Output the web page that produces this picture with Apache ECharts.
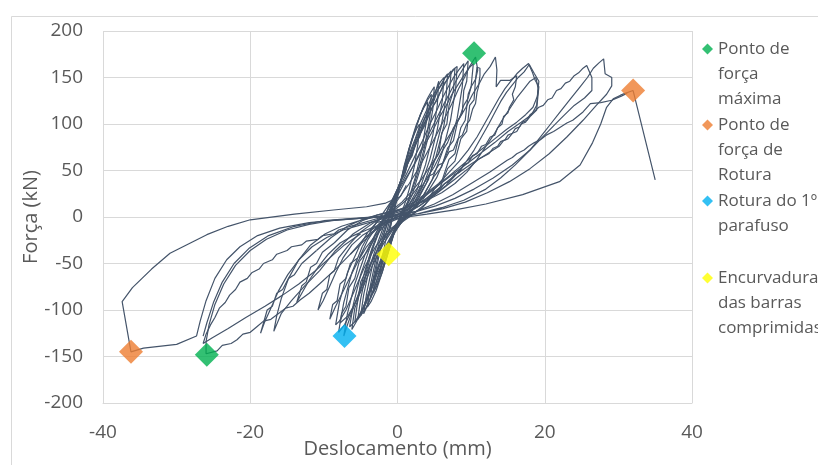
<!DOCTYPE html>
<html>
<head>
<meta charset="utf-8">
<script src="https://cdn.jsdelivr.net/npm/echarts@6/dist/echarts.min.js"></script>
<style>
  html,body{margin:0;padding:0;background:#fff;}
  #chart{width:818px;height:465px;}
</style>
</head>
<body>
<div id="chart"></div>
<script>
// deslocamento (mm), força (kN) - ciclos
const ciclo01=[[-1.0,-12],[-0.4,8],[0.3,32],[0.9,55],[1.5,72],[2.1,86],[2.6,95],[3.0,100],[2.8,80],[2.3,55],[1.6,30],[0.9,12],[0.2,-2],[-0.5,-18],[-1.1,-34],[-1.7,-48],[-2.1,-56],[-2.4,-62],[-2.1,-45],[-1.6,-25],[-1.0,-12]];
const ciclo02=[[-1.0,-12],[-0.4,10],[0.4,36],[1.1,58],[1.8,80],[2.5,98],[3.1,110],[3.6,118],[4.1,124],[3.9,102],[3.3,72],[2.4,42],[1.4,16],[0.4,0],[-0.6,-20],[-1.4,-42],[-2.1,-60],[-2.8,-74],[-3.3,-82],[-3.0,-60],[-2.3,-34],[-1.4,-14]];
const ciclo03=[[-1.4,-14],[-0.7,8],[0.2,32],[1.0,56],[1.8,78],[2.6,98],[3.4,116],[4.1,128],[4.6,135],[5.0,140],[4.8,116],[4.1,84],[3.1,52],[2.0,24],[0.8,4],[-0.3,-14],[-1.2,-36],[-2.1,-60],[-2.9,-79],[-3.6,-91],[-4.1,-97],[-3.7,-74],[-2.9,-44],[-1.9,-20]];
const ciclo04=[[-1.9,-20],[-1.1,0],[-0.2,22],[0.7,44],[1.5,66],[2.4,84],[3.2,102],[3.9,114],[4.6,128],[5.2,136],[5.8,145],[6.3,150],[6.1,126],[5.4,94],[4.4,62],[3.2,34],[1.8,12],[0.4,-4],[-0.8,-22],[-1.8,-44],[-2.7,-66],[-3.5,-84],[-4.3,-98],[-5.0,-106],[-4.6,-84],[-3.8,-54],[-2.7,-28]];
const ciclo05=[[-2.7,-28],[-1.8,-8],[-0.8,14],[0.3,36],[1.3,58],[2.2,78],[3.1,96],[4.0,112],[4.8,126],[5.6,138],[6.4,149],[7.3,157],[7.0,132],[6.3,98],[5.2,64],[3.9,36],[2.4,13],[0.9,-2],[-0.5,-17],[-1.7,-38],[-2.8,-60],[-3.8,-82],[-4.6,-98],[-5.3,-108],[-5.8,-113],[-5.4,-90],[-4.5,-60],[-3.4,-32]];
const ciclo06=[[-3.4,-32],[-2.3,-10],[-1.2,10],[0,30],[1.0,50],[2.0,68],[3.0,88],[3.8,100],[4.7,118],[5.4,126],[6.2,142],[6.8,148],[7.5,158],[8.1,162],[7.9,138],[7.2,104],[6.1,70],[4.7,40],[3.0,16],[1.2,0],[-0.4,-15],[-1.7,-36],[-2.9,-60],[-3.9,-82],[-4.8,-100],[-5.7,-112],[-6.5,-118],[-6.0,-94],[-5.0,-62],[-3.8,-34]];
const ciclo07=[[-3.8,-34],[-2.6,-12],[-1.3,8],[0,28],[1.2,46],[2.4,66],[3.4,82],[4.4,100],[5.3,114],[6.1,128],[6.9,140],[7.6,150],[8.3,158],[9.0,165],[8.8,140],[8.1,106],[6.9,72],[5.3,42],[3.4,18],[1.4,2],[-0.5,-12],[-2.0,-30],[-3.4,-52],[-4.6,-74],[-5.7,-92],[-6.7,-106],[-7.8,-114],[-7.3,-92],[-6.2,-60],[-4.8,-32]];
const ciclo08=[[-4.8,-32],[-3.4,-12],[-1.8,6],[-0.4,22],[1.0,40],[2.4,58],[3.6,76],[4.6,90],[5.6,106],[6.5,118],[7.4,132],[8.2,142],[9.0,152],[9.7,160],[10.3,165],[10.0,140],[9.6,132],[9.2,104],[8.6,96],[7.8,68],[7.0,62],[6.0,38],[5.0,30],[3.8,14],[1.6,0],[-0.6,-12],[-2.4,-30],[-3.8,-52],[-5.0,-76],[-6.0,-98],[-6.8,-116],[-7.3,-128],[-6.8,-104],[-5.8,-72],[-4.4,-40]];
const ciclo09=[[-4.4,-40],[-3.0,-18],[-1.6,0],[0,18],[1.6,36],[3.0,54],[4.2,72],[5.4,90],[6.4,106],[7.4,122],[8.3,138],[9.1,150],[9.8,162],[10.6,172],[10.9,158],[10.6,148],[10.4,126],[9.8,120],[9.4,92],[8.6,84],[7.8,60],[6.8,52],[5.8,32],[3.4,10],[1.0,-2],[-1.2,-14],[-3.0,-32],[-4.6,-56],[-5.9,-80],[-7.0,-100],[-7.9,-112],[-8.4,-116],[-7.9,-92],[-6.8,-60],[-5.2,-32]];
const ciclo10=[[-5.2,-32],[-4.0,-16],[-2.6,-4],[-1.0,6],[0.6,16],[2.0,28],[3.2,40],[4.4,54],[5.4,66],[6.4,80],[7.4,92],[8.4,106],[9.3,118],[10.2,132],[11.0,142],[11.8,154],[12.6,162],[13.3,172],[13.5,158],[13.4,140],[14.0,147],[15.3,147],[16.2,152],[16.0,140],[15.6,132],[15.8,126],[15.2,118],[15.0,112],[14.4,108],[14.2,100],[13.6,96],[13.2,88],[12.6,86],[12.0,78],[11.4,76],[10.8,68],[10.2,66],[9.6,58],[9.0,56],[8.4,48],[7.8,46],[7.0,38],[6.4,36],[5.6,28],[5.0,26],[4.0,18],[3.0,12],[1.6,6],[0,0],[-1.6,-6],[-3.2,-12],[-4.8,-20],[-6.2,-30],[-7.4,-44],[-8.4,-60],[-9.3,-76],[-10.1,-90],[-10.8,-100],[-10.2,-82],[-9.6,-78],[-9.2,-62],[-8.6,-58],[-8.0,-44],[-6.6,-30]];
const ciclo11=[[-6.6,-30],[-5.0,-16],[-3.2,-6],[-1.4,2],[0.4,8],[2.2,16],[4.0,26],[5.6,36],[7.0,48],[8.4,60],[9.6,72],[10.8,86],[11.8,100],[12.8,114],[13.8,128],[14.6,138],[15.4,146],[16.2,154],[17.0,160],[17.8,165],[18.3,156],[18.7,147],[19.2,140],[19.0,124],[18.9,115],[18.0,108],[17.6,104],[17.0,102],[16.6,97],[16.0,95],[15.6,90],[15.0,88],[14.6,83],[14.0,81],[13.6,76],[13.0,74],[12.4,68],[11.0,62],[9.6,52],[8.0,42],[6.4,32],[4.8,22],[3.0,12],[1.2,4],[-0.6,-2],[-2.4,-8],[-4.2,-14],[-6.0,-20],[-7.8,-28],[-9.4,-40],[-10.8,-54],[-12.0,-68],[-13.0,-82],[-13.7,-92],[-13.0,-74],[-12.4,-70],[-11.8,-54],[-11.0,-50],[-10.2,-38],[-8.6,-28]];
const ciclo12=[[-8.6,-28],[-6.8,-14],[-4.8,-4],[-2.8,2],[-0.8,6],[1.2,10],[3.2,16],[5.0,24],[6.6,34],[8.0,46],[9.2,58],[10.4,72],[11.4,86],[12.4,100],[13.2,112],[14.0,124],[14.8,134],[15.6,142],[16.4,150],[17.2,156],[17.9,164],[18.6,154],[19.2,146],[19.0,130],[18.4,118],[17.4,110],[16.2,102],[14.8,94],[13.2,84],[11.6,74],[10.0,64],[8.2,52],[6.4,40],[4.6,28],[2.8,16],[1.0,6],[-1.0,0],[-3.0,-4],[-5.2,-9],[-7.4,-14],[-9.6,-22],[-11.6,-32],[-13.4,-46],[-14.9,-62],[-16.2,-80],[-17.2,-98],[-18.0,-112],[-18.6,-125],[-17.7,-100],[-17.0,-96],[-16.4,-82],[-15.6,-78],[-14.8,-66],[-14.0,-62],[-13.0,-50],[-11.0,-36]];
const ciclo13=[[-11.0,-36],[-9.0,-22],[-6.8,-10],[-4.6,-2],[-2.4,3],[-0.2,7],[2.0,12],[4.0,18],[6.0,26],[7.8,36],[9.4,48],[10.8,62],[12.0,76],[13.2,90],[14.2,104],[15.2,116],[16.2,128],[17.2,138],[18.0,146],[18.8,150],[19.1,138],[18.9,120],[18.2,110],[16.8,102],[15.0,92],[13.2,80],[11.2,68],[9.2,56],[7.2,44],[5.2,32],[3.2,20],[1.2,10],[-0.8,4],[-3.0,0],[-5.2,-4],[-7.6,-10],[-9.8,-18],[-11.8,-30],[-13.4,-46],[-14.8,-66],[-15.8,-88],[-16.4,-106],[-16.8,-123],[-15.8,-104],[-14.4,-90],[-12.6,-74],[-10.6,-58]];
const ciclo14=[[-10.6,-58],[-8.4,-36],[-6.0,-18],[-3.6,-6],[-1.2,2],[1.2,8],[3.6,18],[5.8,32],[8.0,46],[10.2,58],[12.2,68],[13.8,76],[14.4,82],[15.0,84],[15.6,90],[16.2,92],[16.8,100],[17.4,102],[18.0,110],[18.5,113],[19.2,118],[19.8,120],[20.4,126],[21.0,128],[21.6,136],[22.2,138],[22.8,144],[23.4,146],[24.0,152],[24.6,155],[25.2,160],[25.7,163],[26.4,150],[26.4,136],[25.4,128],[24.0,120],[22.2,106],[20.2,90],[18.0,72],[15.6,56],[13.0,42],[10.4,30],[7.8,20],[5.2,12],[2.6,6],[0,2],[-3,0],[-6,-2],[-9,-4],[-12,-8],[-15,-14],[-17.8,-24],[-20.0,-36],[-22.0,-52],[-23.6,-72],[-24.8,-94],[-25.6,-116],[-26.0,-134],[-26.0,-147],[-24.5,-144],[-23.8,-138],[-22.6,-136],[-21.8,-132],[-21.0,-126],[-20.0,-124],[-19.1,-118],[-18.2,-112],[-17.2,-110],[-16.2,-104],[-15.2,-98],[-14.2,-96],[-13.2,-89],[-12.0,-82],[-10.6,-72],[-8.4,-56],[-6.4,-40],[-4.6,-26]];
const ciclo15=[[-4.6,-26],[-2.4,-10],[0,-2],[3,4],[6,10],[9,18],[12,30],[14,42],[16,56],[18,72],[19.4,86],[20.8,100],[22.2,114],[23.6,128],[24.8,140],[25.8,150],[26.6,160],[27.4,166],[28.0,170],[28.2,154],[29.1,150],[29.1,141],[28.4,132],[27.0,120],[25.2,104],[23.0,86],[20.6,68],[18.0,52],[15.2,38],[12.2,26],[9.2,16],[6.2,9],[3.2,4],[0,1],[-4,-1],[-8,-3],[-12,-6],[-16,-12],[-19,-20],[-21.4,-32],[-23.2,-46],[-24.8,-66],[-26.0,-90],[-26.8,-112],[-27.3,-128],[-30.0,-137],[-34.5,-141],[-36.2,-145],[-37.4,-91],[-36.0,-76],[-33.4,-56],[-30.9,-39],[-28.4,-29],[-25.9,-19],[-23.0,-10],[-20.0,-3],[-14.0,3],[-8.7,7.5],[-4.2,11],[-1.6,15],[0.4,22],[1.2,34]];
const ciclo16=[[-6.4,-40],[-4.4,-22],[-2.2,-8],[0,0],[2.5,6],[5,14],[7.5,24],[10,36],[12.5,48],[14.9,61],[15.6,64],[16.2,68],[17.2,72],[17.8,76],[18.6,80],[19.4,83],[20.2,88],[21.2,92],[22.0,96],[23.0,101],[23.8,104],[25.2,113],[26.2,122],[27.6,123],[29.1,125.5],[30.4,130],[31.2,133]];
const ciclo17=[[-3.0,-6],[0.4,-1],[4,3],[8,8],[12,14],[17,24],[22,38],[24.8,56],[26.5,80],[27.6,100],[28.4,118],[29.3,127],[30.3,131],[30.9,133],[32.0,136],[35.0,40]];
const ciclo18=[[-2.0,-22],[-1.2,-2],[-0.4,18],[0.5,40],[1.2,52],[1.5,62],[2.2,74],[2.5,82],[3.2,94],[3.5,102],[4.1,112],[4.4,120],[5.0,130],[5.3,138],[5.6,146],[5.4,120],[4.8,88],[3.8,56],[2.6,28],[1.2,8],[-0.2,-8],[-1.2,-28],[-2.2,-52],[-3.0,-72],[-3.8,-90],[-4.6,-104],[-4.2,-82],[-3.4,-52],[-2.4,-26]];
const ciclo19=[[-2.4,-26],[-1.5,-6],[-0.6,16],[0.3,36],[1.0,46],[1.4,58],[2.0,66],[2.4,78],[3.0,86],[3.4,98],[4.0,106],[4.4,118],[5.0,126],[5.4,136],[6.0,142],[6.4,150],[6.8,154],[6.6,128],[5.9,96],[4.8,62],[3.5,34],[2.0,12],[0.6,-4],[-0.6,-20],[-1.6,-40],[-2.4,-56],[-2.8,-62],[-3.3,-74],[-3.7,-80],[-4.2,-92],[-4.6,-98],[-5.0,-106],[-5.4,-110],[-5.0,-88],[-4.2,-58],[-3.2,-30]];
const ciclo20=[[-3.2,-30],[-2.2,-8],[-1.1,12],[0.1,32],[1.1,52],[2.1,72],[3.1,90],[4.0,106],[4.9,120],[5.8,134],[6.6,146],[7.2,154],[7.8,160],[7.6,136],[7.0,120],[6.7,100],[6.0,90],[5.6,68],[4.8,58],[4.2,40],[3.0,24],[1.4,4],[-0.3,-12],[-1.5,-30],[-2.6,-52],[-3.6,-74],[-4.5,-94],[-5.4,-110],[-6.2,-121],[-5.8,-98],[-5.4,-90],[-5.0,-70],[-4.4,-60],[-3.8,-42]];
const ciclo21=[[-3.8,-42],[-2.7,-20],[-1.4,2],[-0.2,20],[1.0,38],[2.2,56],[3.3,74],[4.3,90],[5.3,106],[6.2,120],[7.0,132],[7.8,144],[8.5,154],[9.1,162],[9.6,168],[9.4,146],[9.0,136],[8.8,112],[8.2,104],[7.6,82],[6.8,74],[6.0,54],[5.0,44],[3.6,24],[1.8,6],[0,-6],[-1.6,-20],[-3.0,-40],[-4.2,-62],[-5.3,-84],[-6.3,-102],[-7.2,-116],[-8.0,-124],[-7.6,-104],[-7.0,-96],[-6.6,-76],[-5.8,-66],[-5.2,-48],[-4.2,-38],[-3.0,-22]];
const ciclo22=[[-1.2,-14],[-0.6,6],[0.2,30],[0.9,52],[1.6,74],[2.4,94],[3.1,110],[3.8,122],[4.6,132],[4.4,108],[3.7,76],[2.7,46],[1.6,20],[0.5,2],[-0.5,-16],[-1.3,-36],[-2.1,-56],[-2.9,-74],[-3.7,-88],[-3.3,-66],[-2.6,-40],[-1.6,-18]];
const ciclo23=[[-5.2,-44],[-4.0,-24],[-2.6,-8],[-1.0,4],[0.6,14],[2.0,24],[2.8,32],[3.4,34],[4.2,44],[4.8,46],[5.6,56],[6.2,58],[7.0,70],[7.6,72],[8.2,84],[8.8,88],[9.4,100],[9.8,104],[10.2,116],[10.6,122],[10.8,134],[11.0,140],[11.2,152],[11.2,160],[10.8,161],[10.6,148],[10.0,140],[9.6,128],[9.0,120],[8.4,106],[7.6,96],[6.8,80],[6.0,70],[5.0,54],[4.0,42],[2.8,26],[1.4,12],[0,2],[-1.6,-8],[-3.0,-20],[-4.2,-32],[-5.4,-48],[-6.4,-64],[-7.4,-80],[-8.4,-96],[-9.2,-110],[-8.8,-94],[-8.2,-90],[-7.8,-72],[-7.0,-66],[-6.4,-50],[-5.4,-44]];
const ciclo24=[[2,6],[-2,0],[-6.4,-10],[-8.0,-14],[-8.6,-18],[-10.2,-20],[-10.8,-24],[-12.4,-26],[-13.0,-30],[-14.4,-32],[-15.0,-36],[-16.4,-40],[-17.0,-46],[-18.2,-50],[-18.8,-56],[-19.8,-60],[-20.4,-66],[-21.4,-70],[-22.0,-78],[-22.8,-84],[-23.4,-92],[-24.2,-98],[-24.8,-108],[-25.4,-116],[-26.0,-126],[-26.4,-136],[-25.2,-130],[-23.0,-120],[-20.6,-108],[-18.0,-96],[-15.6,-84],[-13.4,-72],[-11.2,-58],[-9.2,-44],[-7.2,-30],[-5.0,-18]];
const ciclo25=[[0,2],[-5,-1],[-10,-4],[-14,-10],[-17.5,-20],[-20.2,-34],[-22.2,-50],[-23.8,-70],[-25.0,-92],[-25.9,-114],[-26.4,-128]];

const ciclos=[ciclo01,ciclo02,ciclo03,ciclo04,ciclo05,ciclo06,ciclo07,ciclo08,ciclo09,ciclo10,ciclo11,ciclo12,ciclo13,
    ciclo14,ciclo15,ciclo16,ciclo17,ciclo18,ciclo19,ciclo20,ciclo21,ciclo22,ciclo23,ciclo24,ciclo25];

// pontos notáveis
const pontoForcaMaxima=[[10.4,176],[-25.9,-148]];
const pontoForcaRotura=[[32.0,136],[-36.2,-145]];
const roturaParafuso=[[-7.2,-128]];
const encurvadura=[[-1.2,-40]];

const legendas=['Ponto de força máxima','Ponto de força de Rotura','Rotura do 1º parafuso','Encurvadura das barras comprimidas'];
const rotulosLegenda=['Ponto de\nforça\nmáxima','Ponto de\nforça de\nRotura','Rotura do 1º\nparafuso','Encurvadura\ndas barras\ncomprimidas'];
const coresPontos=['#00B050','#ED7D31','#00B0F0','#FFFF00'];
const dadosPontos=[pontoForcaMaxima,pontoForcaRotura,roturaParafuso,encurvadura];
const centroLegenda=[49,125,201,278];

const xTicks=[-40,-20,0,20,40];
const yTicks=[-200,-150,-100,-50,0,50,100,150,200];

const fonte='"Open Sans", sans-serif';
const cinza='#595959';
const grelha='#d9d9d9';
const alturaLinha=25;

const chart=echarts.init(document.getElementById('chart'),null,{renderer:'canvas'});

const seriesCiclos=ciclos.map(c=>({
    type:'line',
    data:c,
    showSymbol:false,
    silent:true,
    lineStyle:{color:'#44546A',width:1.2},
    z:2
}));

const seriesPontos=dadosPontos.map((d,i)=>({
    type:'scatter',
    name:legendas[i],
    data:d,
    symbol:'diamond',
    symbolSize:24,
    itemStyle:{color:coresPontos[i]},
    z:5
}));

// uma legenda por item; linhas em branco no início alinham o losango com a 1ª linha
const legendasCfg=legendas.map((nome,i)=>{
    const n=rotulosLegenda[i].split('\n').length;
    const texto='\n'.repeat(n-1)+rotulosLegenda[i];
    return {
        data:[nome],
        left:702,
        top:centroLegenda[i]-(2*n-1)*alturaLinha/2,
        orient:'vertical',
        padding:0,
        icon:'diamond',
        itemWidth:11,
        itemHeight:11,
        selectedMode:false,
        formatter:()=>texto,
        textStyle:{color:cinza,fontFamily:fonte,fontSize:17,lineHeight:alturaLinha}
    };
});

const option={
    animation:false,
    backgroundColor:'#ffffff',
    graphic:[{
        type:'rect',
        left:9,top:14,
        shape:{width:900,height:500},
        style:{fill:'none',stroke:grelha,lineWidth:1},
        z:-10
    }],
    grid:{left:103,right:126,top:31,bottom:62,outerBoundsMode:'none',containLabel:false},
    legend:legendasCfg,
    xAxis:{
        type:'value',
        min:xTicks[0],
        max:xTicks[xTicks.length-1],
        interval:20,
        name:'Deslocamento (mm)',
        nameLocation:'middle',
        nameGap:36,
        nameMoveOverlap:false,
        nameTextStyle:{color:cinza,fontFamily:fonte,fontSize:20},
        axisLine:{show:true,onZero:false,lineStyle:{color:grelha,width:1}},
        axisTick:{show:false},
        axisLabel:{color:cinza,fontFamily:fonte,fontSize:19,margin:20},
        splitLine:{show:true,lineStyle:{color:grelha,width:1}}
    },
    yAxis:{
        type:'value',
        min:yTicks[0],
        max:yTicks[yTicks.length-1],
        interval:50,
        name:'Força (kN)',
        nameLocation:'middle',
        nameGap:62,
        nameMoveOverlap:false,
        nameTextStyle:{color:cinza,fontFamily:fonte,fontSize:20},
        axisLine:{show:true,lineStyle:{color:grelha,width:1}},
        axisTick:{show:false},
        axisLabel:{color:cinza,fontFamily:fonte,fontSize:19,margin:20},
        splitLine:{show:true,lineStyle:{color:grelha,width:1}}
    },
    series:[...seriesCiclos,...seriesPontos]
};

chart.setOption(option);
</script>
</body>
</html>
